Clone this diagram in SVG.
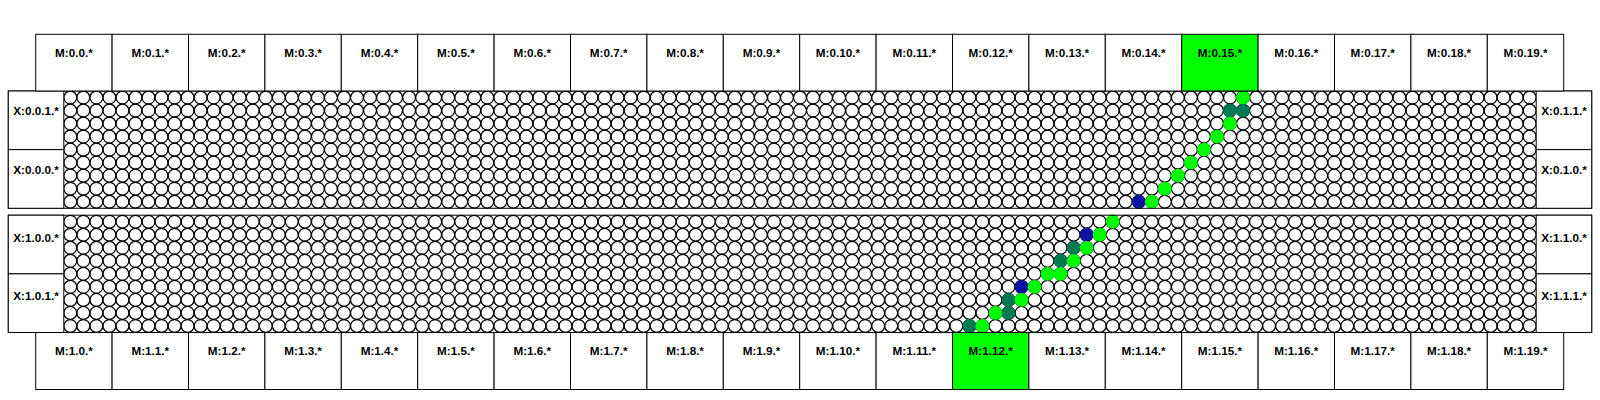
<svg xmlns="http://www.w3.org/2000/svg" xmlns:xlink="http://www.w3.org/1999/xlink" width="1600" height="400" viewBox="0 0 1600 400">
<style>
.box{fill:#fff;stroke:#000;stroke-width:1}
.hl{fill:#00ff00;stroke:#000;stroke-width:1}
.frame{fill:none;stroke:#000;stroke-width:1}
.lbl{font-family:"Liberation Sans",Arial,Helvetica,sans-serif;font-weight:bold;font-size:11.7px;text-anchor:middle;fill:#000}
.cell{fill:none;stroke:#000;stroke-width:1.25}
.g{fill:#00ff00}
.t{fill:#007a55}
.b{fill:#0a14a0}
</style>
<defs>
<circle id="o" cx="0" cy="0" r="6.45" class="cell"/>
<g id="r10"><use href="#o" x="0"/><use href="#o" x="13.03"/><use href="#o" x="26.06"/><use href="#o" x="39.09"/><use href="#o" x="52.12"/><use href="#o" x="65.15"/><use href="#o" x="78.18"/><use href="#o" x="91.21"/><use href="#o" x="104.24"/><use href="#o" x="117.27"/></g>
<g id="row"><use href="#r10" x="0"/><use href="#r10" x="130.3"/><use href="#r10" x="260.6"/><use href="#r10" x="390.9"/><use href="#r10" x="521.2"/><use href="#r10" x="651.5"/><use href="#r10" x="781.8"/><use href="#r10" x="912.1"/><use href="#r10" x="1042.4"/><use href="#r10" x="1172.7"/><use href="#r10" x="1303"/><use href="#o" x="1433.3"/><use href="#o" x="1446.33"/><use href="#o" x="1459.36"/></g>
</defs>
<rect x="0" y="0" width="1600" height="400" fill="#fff"/>

<g id="grid-0">
<rect x="63.8" y="91" width="1472.4" height="117.27" fill="#fff"/>
<use href="#row" x="70.315" y="97.515"/>
<use href="#row" x="70.315" y="110.545"/>
<use href="#row" x="70.315" y="123.575"/>
<use href="#row" x="70.315" y="136.605"/>
<use href="#row" x="70.315" y="149.635"/>
<use href="#row" x="70.315" y="162.665"/>
<use href="#row" x="70.315" y="175.695"/>
<use href="#row" x="70.315" y="188.725"/>
<use href="#row" x="70.315" y="201.755"/>
</g>
<g id="grid-1">
<rect x="63.8" y="215.2" width="1472.4" height="117.27" fill="#fff"/>
<use href="#row" x="70.315" y="221.715"/>
<use href="#row" x="70.315" y="234.745"/>
<use href="#row" x="70.315" y="247.775"/>
<use href="#row" x="70.315" y="260.805"/>
<use href="#row" x="70.315" y="273.835"/>
<use href="#row" x="70.315" y="286.865"/>
<use href="#row" x="70.315" y="299.895"/>
<use href="#row" x="70.315" y="312.925"/>
<use href="#row" x="70.315" y="325.955"/>
</g>

<g id="route-0">
<circle class="g" cx="1243.015" cy="97.515" r="6.9"/>
<circle class="t" cx="1229.985" cy="110.545" r="6.9"/>
<circle class="t" cx="1243.015" cy="110.545" r="6.9"/>
<circle class="g" cx="1229.985" cy="123.575" r="6.9"/>
<circle class="g" cx="1216.955" cy="136.605" r="6.9"/>
<circle class="g" cx="1203.925" cy="149.635" r="6.9"/>
<circle class="g" cx="1190.895" cy="162.665" r="6.9"/>
<circle class="g" cx="1177.865" cy="175.695" r="6.9"/>
<circle class="g" cx="1164.835" cy="188.725" r="6.9"/>
<circle class="b" cx="1138.775" cy="201.755" r="6.9"/>
<circle class="g" cx="1151.805" cy="201.755" r="6.9"/>
</g>
<g id="route-1">
<circle class="g" cx="1112.715" cy="221.715" r="6.9"/>
<circle class="b" cx="1086.655" cy="234.745" r="6.9"/>
<circle class="g" cx="1099.685" cy="234.745" r="6.9"/>
<circle class="t" cx="1073.625" cy="247.775" r="6.9"/>
<circle class="g" cx="1086.655" cy="247.775" r="6.9"/>
<circle class="t" cx="1060.595" cy="260.805" r="6.9"/>
<circle class="g" cx="1073.625" cy="260.805" r="6.9"/>
<circle class="g" cx="1047.565" cy="273.835" r="6.9"/>
<circle class="g" cx="1060.595" cy="273.835" r="6.9"/>
<circle class="b" cx="1021.505" cy="286.865" r="6.9"/>
<circle class="g" cx="1034.535" cy="286.865" r="6.9"/>
<circle class="t" cx="1008.475" cy="299.895" r="6.9"/>
<circle class="g" cx="1021.505" cy="299.895" r="6.9"/>
<circle class="g" cx="995.445" cy="312.925" r="6.9"/>
<circle class="t" cx="1008.475" cy="312.925" r="6.9"/>
<circle class="t" cx="969.385" cy="325.955" r="6.9"/>
<circle class="g" cx="982.415" cy="325.955" r="6.9"/>
</g>

<g id="block-0"><rect class="frame" x="8.3" y="91" width="1583.4" height="117.27"/></g>
<g id="block-1"><rect class="frame" x="8.3" y="215.2" width="1583.4" height="117.27"/></g>

<g id="x-0-0-1"><rect class="box" x="8.3" y="91" width="55.5" height="58.635"/><text class="lbl" x="36" y="115.3">X:0.0.1.*</text></g>
<g id="x-0-0-0"><rect class="box" x="8.3" y="149.635" width="55.5" height="58.635"/><text class="lbl" x="36" y="173.6">X:0.0.0.*</text></g>
<g id="x-0-1-1"><rect class="box" x="1536.2" y="91" width="55.5" height="58.635"/><text class="lbl" x="1564" y="115.3">X:0.1.1.*</text></g>
<g id="x-0-1-0"><rect class="box" x="1536.2" y="149.635" width="55.5" height="58.635"/><text class="lbl" x="1564" y="173.6">X:0.1.0.*</text></g>
<g id="x-1-0-0"><rect class="box" x="8.3" y="215.2" width="55.5" height="58.635"/><text class="lbl" x="36" y="241.5">X:1.0.0.*</text></g>
<g id="x-1-0-1"><rect class="box" x="8.3" y="273.835" width="55.5" height="58.635"/><text class="lbl" x="36" y="300.3">X:1.0.1.*</text></g>
<g id="x-1-1-0"><rect class="box" x="1536.2" y="215.2" width="55.5" height="58.635"/><text class="lbl" x="1564" y="241.5">X:1.1.0.*</text></g>
<g id="x-1-1-1"><rect class="box" x="1536.2" y="273.835" width="55.5" height="58.635"/><text class="lbl" x="1564" y="300.3">X:1.1.1.*</text></g>

<g id="m-0-0"><rect class="box" x="35.7" y="34.3" width="76.4" height="56.7"/><text class="lbl" x="73.9" y="56.5">M:0.0.*</text></g>
<g id="m-0-1"><rect class="box" x="112.1" y="34.3" width="76.4" height="56.7"/><text class="lbl" x="150.3" y="56.5">M:0.1.*</text></g>
<g id="m-0-2"><rect class="box" x="188.5" y="34.3" width="76.4" height="56.7"/><text class="lbl" x="226.7" y="56.5">M:0.2.*</text></g>
<g id="m-0-3"><rect class="box" x="264.9" y="34.3" width="76.4" height="56.7"/><text class="lbl" x="303.1" y="56.5">M:0.3.*</text></g>
<g id="m-0-4"><rect class="box" x="341.3" y="34.3" width="76.4" height="56.7"/><text class="lbl" x="379.5" y="56.5">M:0.4.*</text></g>
<g id="m-0-5"><rect class="box" x="417.7" y="34.3" width="76.4" height="56.7"/><text class="lbl" x="455.9" y="56.5">M:0.5.*</text></g>
<g id="m-0-6"><rect class="box" x="494.1" y="34.3" width="76.4" height="56.7"/><text class="lbl" x="532.3" y="56.5">M:0.6.*</text></g>
<g id="m-0-7"><rect class="box" x="570.5" y="34.3" width="76.4" height="56.7"/><text class="lbl" x="608.7" y="56.5">M:0.7.*</text></g>
<g id="m-0-8"><rect class="box" x="646.9" y="34.3" width="76.4" height="56.7"/><text class="lbl" x="685.1" y="56.5">M:0.8.*</text></g>
<g id="m-0-9"><rect class="box" x="723.3" y="34.3" width="76.4" height="56.7"/><text class="lbl" x="761.5" y="56.5">M:0.9.*</text></g>
<g id="m-0-10"><rect class="box" x="799.7" y="34.3" width="76.4" height="56.7"/><text class="lbl" x="837.9" y="56.5">M:0.10.*</text></g>
<g id="m-0-11"><rect class="box" x="876.1" y="34.3" width="76.4" height="56.7"/><text class="lbl" x="914.3" y="56.5">M:0.11.*</text></g>
<g id="m-0-12"><rect class="box" x="952.5" y="34.3" width="76.4" height="56.7"/><text class="lbl" x="990.7" y="56.5">M:0.12.*</text></g>
<g id="m-0-13"><rect class="box" x="1028.9" y="34.3" width="76.4" height="56.7"/><text class="lbl" x="1067.1" y="56.5">M:0.13.*</text></g>
<g id="m-0-14"><rect class="box" x="1105.3" y="34.3" width="76.4" height="56.7"/><text class="lbl" x="1143.5" y="56.5">M:0.14.*</text></g>
<g id="m-0-15"><rect class="hl" x="1181.7" y="34.3" width="76.4" height="56.7"/><text class="lbl" x="1219.9" y="56.5">M:0.15.*</text></g>
<g id="m-0-16"><rect class="box" x="1258.1" y="34.3" width="76.4" height="56.7"/><text class="lbl" x="1296.3" y="56.5">M:0.16.*</text></g>
<g id="m-0-17"><rect class="box" x="1334.5" y="34.3" width="76.4" height="56.7"/><text class="lbl" x="1372.7" y="56.5">M:0.17.*</text></g>
<g id="m-0-18"><rect class="box" x="1410.9" y="34.3" width="76.4" height="56.7"/><text class="lbl" x="1449.1" y="56.5">M:0.18.*</text></g>
<g id="m-0-19"><rect class="box" x="1487.3" y="34.3" width="76.4" height="56.7"/><text class="lbl" x="1525.5" y="56.5">M:0.19.*</text></g>

<g id="m-1-0"><rect class="box" x="35.7" y="332.5" width="76.4" height="57"/><text class="lbl" x="73.9" y="354.5">M:1.0.*</text></g>
<g id="m-1-1"><rect class="box" x="112.1" y="332.5" width="76.4" height="57"/><text class="lbl" x="150.3" y="354.5">M:1.1.*</text></g>
<g id="m-1-2"><rect class="box" x="188.5" y="332.5" width="76.4" height="57"/><text class="lbl" x="226.7" y="354.5">M:1.2.*</text></g>
<g id="m-1-3"><rect class="box" x="264.9" y="332.5" width="76.4" height="57"/><text class="lbl" x="303.1" y="354.5">M:1.3.*</text></g>
<g id="m-1-4"><rect class="box" x="341.3" y="332.5" width="76.4" height="57"/><text class="lbl" x="379.5" y="354.5">M:1.4.*</text></g>
<g id="m-1-5"><rect class="box" x="417.7" y="332.5" width="76.4" height="57"/><text class="lbl" x="455.9" y="354.5">M:1.5.*</text></g>
<g id="m-1-6"><rect class="box" x="494.1" y="332.5" width="76.4" height="57"/><text class="lbl" x="532.3" y="354.5">M:1.6.*</text></g>
<g id="m-1-7"><rect class="box" x="570.5" y="332.5" width="76.4" height="57"/><text class="lbl" x="608.7" y="354.5">M:1.7.*</text></g>
<g id="m-1-8"><rect class="box" x="646.9" y="332.5" width="76.4" height="57"/><text class="lbl" x="685.1" y="354.5">M:1.8.*</text></g>
<g id="m-1-9"><rect class="box" x="723.3" y="332.5" width="76.4" height="57"/><text class="lbl" x="761.5" y="354.5">M:1.9.*</text></g>
<g id="m-1-10"><rect class="box" x="799.7" y="332.5" width="76.4" height="57"/><text class="lbl" x="837.9" y="354.5">M:1.10.*</text></g>
<g id="m-1-11"><rect class="box" x="876.1" y="332.5" width="76.4" height="57"/><text class="lbl" x="914.3" y="354.5">M:1.11.*</text></g>
<g id="m-1-12"><rect class="hl" x="952.5" y="332.5" width="76.4" height="57"/><text class="lbl" x="990.7" y="354.5">M:1.12.*</text></g>
<g id="m-1-13"><rect class="box" x="1028.9" y="332.5" width="76.4" height="57"/><text class="lbl" x="1067.1" y="354.5">M:1.13.*</text></g>
<g id="m-1-14"><rect class="box" x="1105.3" y="332.5" width="76.4" height="57"/><text class="lbl" x="1143.5" y="354.5">M:1.14.*</text></g>
<g id="m-1-15"><rect class="box" x="1181.7" y="332.5" width="76.4" height="57"/><text class="lbl" x="1219.9" y="354.5">M:1.15.*</text></g>
<g id="m-1-16"><rect class="box" x="1258.1" y="332.5" width="76.4" height="57"/><text class="lbl" x="1296.3" y="354.5">M:1.16.*</text></g>
<g id="m-1-17"><rect class="box" x="1334.5" y="332.5" width="76.4" height="57"/><text class="lbl" x="1372.7" y="354.5">M:1.17.*</text></g>
<g id="m-1-18"><rect class="box" x="1410.9" y="332.5" width="76.4" height="57"/><text class="lbl" x="1449.1" y="354.5">M:1.18.*</text></g>
<g id="m-1-19"><rect class="box" x="1487.3" y="332.5" width="76.4" height="57"/><text class="lbl" x="1525.5" y="354.5">M:1.19.*</text></g>

<g id="connectors"></g>
</svg>
